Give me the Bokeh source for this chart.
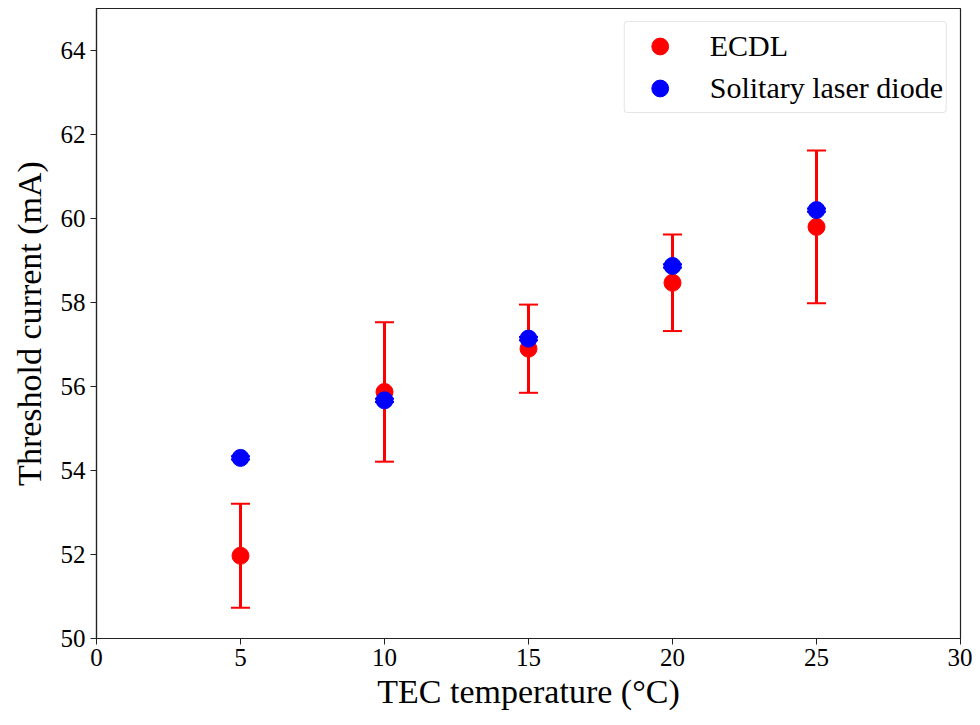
from bokeh.plotting import figure
from bokeh.models import ColumnDataSource, Whisker, TeeHead, Legend, LegendItem, FixedTicker
from bokeh.embed import file_html
from bokeh.resources import INLINE

temps = [5, 10, 15, 20, 25]
ecdl = [51.97, 55.87, 56.90, 58.47, 59.80]
ecdl_err = [1.24, 1.66, 1.05, 1.15, 1.82]
solo = [54.30, 55.67, 57.14, 58.87, 60.20]
solo_err = [0.04, 0.04, 0.04, 0.04, 0.04]

FONT = "Liberation Serif"

p = figure(width=972, height=718, x_range=(0, 30), y_range=(50, 65),
           output_backend="svg", toolbar_location=None,
           min_border_left=96, min_border_right=12, min_border_top=8, min_border_bottom=80)
p.grid.visible = False
p.outline_line_color = "#222222"
p.outline_line_width = 1.2
p.background_fill_color = "white"
p.border_fill_color = "white"

for ax in (p.xaxis, p.yaxis):
    ax.axis_line_color = "#222222"
    ax.axis_line_width = 1.2
    ax.major_tick_line_color = "#222222"
    ax.major_tick_out = 6
    ax.major_tick_in = 0
    ax.minor_tick_line_color = None
    ax.major_label_text_font = FONT
    ax.major_label_text_font_size = "25px"
    ax.major_label_text_color = "black"
    ax.axis_label_text_font = FONT
    ax.axis_label_text_font_size = "34px"
    ax.axis_label_text_font_style = "normal"
    ax.axis_label_text_color = "black"

p.xaxis.ticker = FixedTicker(ticks=[0, 5, 10, 15, 20, 25, 30])
p.yaxis.ticker = FixedTicker(ticks=[50, 52, 54, 56, 58, 60, 62, 64])
p.xaxis.axis_label = "TEC temperature (°C)"
p.yaxis.axis_label = "Threshold current (mA)"
p.xaxis.major_label_standoff = 4
p.yaxis.major_label_standoff = 5
p.xaxis.axis_label_standoff = 4
p.yaxis.axis_label_standoff = 10

src_e = ColumnDataSource(dict(x=temps, y=ecdl,
                              lo=[v - e for v, e in zip(ecdl, ecdl_err)],
                              hi=[v + e for v, e in zip(ecdl, ecdl_err)]))
src_s = ColumnDataSource(dict(x=temps, y=solo,
                              lo=[v - e for v, e in zip(solo, solo_err)],
                              hi=[v + e for v, e in zip(solo, solo_err)]))

def add_err(src, color):
    w = Whisker(source=src, base="x", lower="lo", upper="hi", dimension="height",
                line_color=color, line_width=3,
                lower_head=TeeHead(size=19, line_color=color, line_width=2),
                upper_head=TeeHead(size=19, line_color=color, line_width=2))
    p.add_layout(w)

add_err(src_e, "red")
r_e = p.scatter("x", "y", source=src_e, size=17, color="red")
add_err(src_s, "blue")
r_s = p.scatter("x", "y", source=src_s, size=17, color="blue")

legend = Legend(items=[LegendItem(label="ECDL", renderers=[r_e]),
                       LegendItem(label="Solitary laser diode", renderers=[r_s])],
                location="top_right")
legend.label_text_font = FONT
legend.label_text_font_size = "30px"
legend.label_text_color = "black"
legend.glyph_height = 42
legend.glyph_width = 64
legend.label_standoff = 18
legend.label_height = 42
legend.spacing = 0
legend.padding = 3
legend.margin = 13
legend.border_line_color = "#cccccc"
legend.border_line_width = 1.5
legend.border_radius = 4
legend.background_fill_alpha = 0.8
p.add_layout(legend)

open("out.html", "w").write(file_html(p, INLINE))
